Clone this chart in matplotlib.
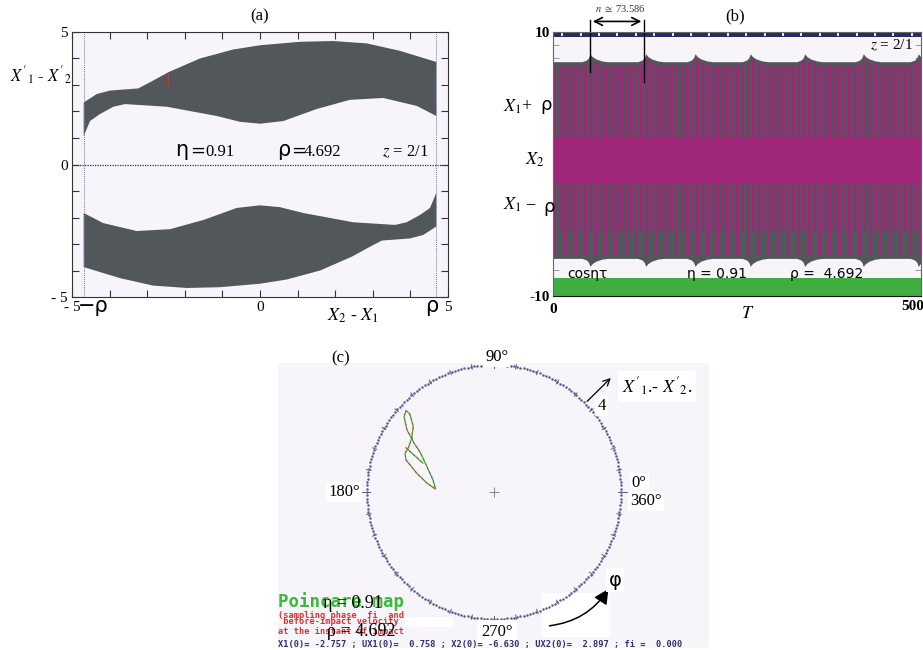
import numpy as np
import matplotlib
matplotlib.use('Agg')
import matplotlib.pyplot as plt
from matplotlib.patches import FancyArrowPatch, Rectangle

plt.rcParams['font.family'] = ['Liberation Serif', 'DejaVu Sans']
plt.rcParams['mathtext.fontset'] = 'stix'

W, H = 923, 650

ETA = 0.91
RHO = 4.692
N_PERIOD = 73.586

LAV = '#f7f5fa'
GREY = '#52575b'
MAG = '#a0267a'
GREEN = '#3fae3f'
NAVY = '#2b2b62'
DOTS = '#5a5a90'

# (a) phase plane: edges of the upper and lower bands
up_out_x = [-4.69, -4.34, -3.99, -3.24, -2.93, -2.44, -1.60, -0.71, 0.0, 1.06, 1.94, 2.84, 3.72, 4.69]
up_out_y = [2.34, 2.66, 2.79, 2.87, 3.10, 3.48, 4.00, 4.34, 4.50, 4.63, 4.66, 4.57, 4.29, 3.87]
up_in_x = [-4.69, -4.52, -4.26, -3.90, -3.59, -2.48, -1.15, -0.53, 0.0, 0.62, 1.50, 2.39, 3.28, 4.17, 4.69]
up_in_y = [1.07, 1.64, 1.90, 2.18, 2.28, 2.18, 1.83, 1.61, 1.54, 1.64, 2.09, 2.44, 2.51, 2.21, 1.83]
lo_out_x = [-4.69, -3.72, -2.84, -1.94, -1.06, 0.0, 0.71, 1.60, 2.44, 2.93, 3.24, 3.99, 4.34, 4.69]
lo_out_y = [-3.87, -4.29, -4.57, -4.66, -4.63, -4.50, -4.34, -4.00, -3.48, -3.10, -2.87, -2.79, -2.66, -2.34]
lo_in_x = [-4.69, -4.17, -3.28, -2.39, -1.50, -0.62, 0.0, 0.53, 1.15, 2.48, 3.59, 3.90, 4.26, 4.52, 4.69]
lo_in_y = [-1.83, -2.21, -2.51, -2.44, -2.09, -1.64, -1.54, -1.61, -1.83, -2.18, -2.28, -2.18, -1.90, -1.64, -1.07]

# (b) time history: envelope bumps and levels
bump_t = [50.3, 126.0, 193.0, 268.0, 342.0, 421.6, 496.3]
bump_dt = [-11, -5, -2, 0, 3, 8, 16, 24]
bump_shape = [0.0, 0.2, 0.5, 1.0, 0.65, 0.35, 0.1, 0.0]
top_base, top_peak = 7.75, 8.35
bot_base, bot_peak = -7.15, -7.75
core_lo, core_hi = -1.46, 2.07
stripe_low = [-6.9, -5.0]

# (c) Poincare map trace
map_x = [-2.59, -2.74, -2.83, -2.77, -2.65, -2.54, -2.57, -2.59, -2.70, -2.80, -2.77,
         -2.43, -2.11, -1.84, -1.92, -2.12, -2.33, -2.52, -2.59]
map_y = [1.69, 1.95, 2.37, 2.56, 2.46, 2.06, 1.86, 1.69, 1.38, 1.22, 1.01,
         0.59, 0.28, 0.09, 0.38, 0.82, 1.26, 1.54, 1.69]
chord_x = [-2.77, -2.24]
chord_y = [1.39, 0.91]
circle_r = 4
info_line = 'X1(0)= -2.757 ; UX1(0)=  0.758 ; X2(0)= -6.630 ; UX2(0)=  2.897 ; fi =  0.000'


def rect(l, t, r, b):
    return [l / W, 1 - b / H, (r - l) / W, (b - t) / H]


def fxy(px, py):
    return px / W, 1 - py / H


fig = plt.figure(figsize=(W / 100, H / 100), dpi=100)

# ---------- (a) ----------
ax = fig.add_axes(rect(72, 32, 448, 297))
ax.set_facecolor(LAV)
ax.fill(up_out_x + up_in_x[::-1], up_out_y + up_in_y[::-1], color=GREY, lw=0)
ax.fill(lo_out_x + lo_in_x[::-1], lo_out_y + lo_in_y[::-1], color=GREY, lw=0)
ax.axhline(0, color=NAVY, ls=(0, (1, 1)), lw=0.9)
for xv in (-RHO, RHO):
    ax.axvline(xv, color='#7a7aa8', ls=(0, (1, 1)), lw=0.7)
ax.plot([-2.44, -2.44], [3.0, 3.45], color='#c03838', lw=0.8)
ax.set_xlim(-5, 5)
ax.set_ylim(-5, 5)
ax.set_xticks([-5, 0, 5])
ax.set_xticklabels(['- 5', '0', '5'])
ax.set_yticks([-5, 0, 5])
ax.set_yticklabels(['- 5', '0', '5'])
ax.set_xticks(np.arange(-4, 5), minor=True)
ax.set_yticks(np.arange(-4, 5), minor=True)
ax.tick_params(which='both', direction='in', top=True, right=True, length=5,
               width=0.8, color='#303060', labelsize=11, pad=3)
for s in ax.spines.values():
    s.set_color('#333333')
sans = dict(family='DejaVu Sans')
ax.text(-2.26, 0.32, 'η', fontsize=15, **sans)
ax.text(-1.86, 0.32, '=', fontsize=13, **sans)
ax.text(-1.46, 0.32, '0.91', fontsize=12)
ax.text(0.45, 0.32, 'ρ', fontsize=15, **sans)
ax.text(0.82, 0.32, '=', fontsize=13, **sans)
ax.text(1.16, 0.32, '4.692', fontsize=12)
ax.text(3.24, 0.32, r'$z$ = 2/1', fontsize=12)
fig.text(*fxy(260, 16), '(a)', ha='center', va='center', fontsize=12)
fig.text(*fxy(10, 76), r"$X'_1$ - $X'_2$", ha='left', va='center', fontsize=12)
fig.text(*fxy(353, 316), r'$X_2$ - $X_1$', ha='center', va='center', fontsize=13)
fig.text(*fxy(93, 306), '\u2212ρ', ha='center', va='center', fontsize=15, **sans)
fig.text(*fxy(432, 306), 'ρ', ha='center', va='center', fontsize=15, **sans)

# ---------- (b) ----------
bx = fig.add_axes(rect(553, 32, 921, 296))
bx.set_facecolor(LAV)
bx.set_axisbelow(True)

env_t = [0.0]
env_top = [top_base]
env_bot = [bot_base]
for c in bump_t:
    for dt, k in zip(bump_dt, bump_shape):
        env_t.append(c + dt)
        env_top.append(top_base + (top_peak - top_base) * k)
        env_bot.append(bot_base + (bot_peak - bot_base) * k)
env_t.append(530.0)
env_top.append(top_base)
env_bot.append(bot_base)
bx.fill_between(env_t, env_bot, env_top, color=GREY, lw=0)

# one magenta stripe per forcing period 2*pi/eta
stripe_t = np.arange(2.0, 500, 2 * np.pi / ETA)
stripe_top = np.interp(stripe_t, env_t, env_top) - 0.25
stripe_bot = np.array([stripe_low[i % 2] for i in range(len(stripe_t))])
bx.vlines(stripe_t, stripe_bot, stripe_top, color=MAG, lw=2.0)
bx.axhspan(core_lo, core_hi, color=MAG, lw=0)

bx.axhspan(9.6, 10.0, color=NAVY, lw=0)
bx.vlines(np.arange(12.5, 500, 25), 9.68, 9.92, color='white', lw=1.3)
bx.axhspan(-10, -8.6, color=GREEN, lw=0)

bx.set_xlim(0, 500)
bx.set_ylim(-10, 10)
bx.set_xticks([0])
bx.set_xticklabels(['0'])
bx.set_yticks([-10, 10])
bx.set_yticklabels(['-10', '10'])
bx.set_yticks(np.arange(-9, 10), minor=True)
bx.tick_params(axis='x', length=0, labelsize=11, pad=5)
bx.tick_params(axis='y', which='both', direction='in', right=True, length=4,
               color='#8a8a9a', labelsize=11, pad=2)
for lab in bx.get_xticklabels() + bx.get_yticklabels():
    lab.set_fontweight('bold')
for name, s in bx.spines.items():
    s.set_color('#111111' if name == 'bottom' else '#666666')

bx.text(431, 9.0, r'$z$ = 2/1', fontsize=11, va='center')
bx.text(19, -8.3, 'cosητ', fontsize=10, va='center', **sans)
bx.text(182, -8.3, 'η = 0.91', fontsize=10, va='center', **sans)
bx.text(322, -8.3, 'ρ =  4.692', fontsize=10, va='center', **sans)

t_a, t_b = bump_t[0], bump_t[0] + N_PERIOD
bx.plot([t_a, t_a], [10.9, 7.0], color='black', lw=1.0, clip_on=False)
bx.plot([t_b, t_b], [10.9, 6.2], color='black', lw=1.0, clip_on=False)
bx.add_patch(FancyArrowPatch((t_a, 10.8), (t_b, 10.8), arrowstyle='<->', mutation_scale=14,
                             lw=1.2, color='black', clip_on=False))
fig.text(*fxy(620, 9), r'$n\ \cong$ 73.586', ha='center', va='center',
         fontsize=7.5, color='#333333')
fig.text(*fxy(735, 16), '(b)', ha='center', va='center', fontsize=12)
fig.text(*fxy(913, 306), '500', ha='center', va='center', fontsize=11, fontweight='bold')
fig.text(*fxy(748, 314), r'$T$', ha='center', va='center', fontsize=13)
fig.text(*fxy(503, 107), r'$X_1$+', ha='left', va='center', fontsize=13)
fig.text(*fxy(546, 105), 'ρ', ha='center', va='center', fontsize=13, **sans)
fig.text(*fxy(535, 160), r'$X_2$', ha='center', va='center', fontsize=13)
fig.text(*fxy(503, 205), r'$X_1$', ha='left', va='center', fontsize=13)
fig.text(*fxy(530, 205), '\u2212', ha='center', va='center', fontsize=13)
fig.text(*fxy(549, 207), 'ρ', ha='center', va='center', fontsize=13, **sans)

# ---------- (c) ----------
cx = fig.add_axes(rect(278, 363, 709, 648))
cx.set_facecolor(LAV)
cx.set_xlim(-6.80, 6.77)
cx.set_ylim(-4.91, 4.06)
cx.set_xticks([])
cx.set_yticks([])
for s in cx.spines.values():
    s.set_visible(False)

th = np.linspace(0, 2 * np.pi, 240, endpoint=False)
cx.plot(circle_r * np.cos(th), circle_r * np.sin(th), ls='none', marker='.', ms=1.6, color=DOTS)
for deg in range(0, 360, 10):
    a = np.deg2rad(deg)
    r0, r1 = (3.9, 4.22) if deg % 90 == 0 else (3.93, 4.07)
    cx.plot([r0 * np.cos(a), r1 * np.cos(a)], [r0 * np.sin(a), r1 * np.sin(a)], color=DOTS, lw=0.7)
cx.plot([0], [0], marker='+', ms=7, mew=0.6, color='#7070a0')

cx.plot(map_x, map_y, color='#3aa83a', lw=0.9)
cx.plot(map_x, map_y, color='#d83a3a', lw=0.7, ls=(0, (2, 3)))
cx.plot(chord_x, chord_y, color='#3aa83a', lw=0.9)
cx.plot(chord_x, chord_y, color='#d83a3a', lw=0.7, ls=(0, (2, 3)))

white = dict(facecolor='white', edgecolor='none', pad=1.5)
cx.text(0.09, 4.26, '90°', ha='center', va='center', fontsize=12, bbox=white, clip_on=False)
cx.text(4.57, 0.27, '0°', ha='center', va='center', fontsize=12, bbox=white)
cx.text(4.79, -0.28, '360°', ha='center', va='center', fontsize=12, bbox=white)
cx.text(-4.72, 0.0, '180°', ha='center', va='center', fontsize=12, bbox=white)
cx.text(0.09, -4.41, '270°', ha='center', va='center', fontsize=12,
        bbox=dict(facecolor='white', edgecolor='none', pad=3))

cx.add_patch(Rectangle((1.51, -4.57), 2.14, 1.39, facecolor='white', edgecolor='none'))
cx.add_patch(Rectangle((-2.80, -4.25), 1.51, 0.31, facecolor='white', edgecolor='none'))
cx.add_patch(FancyArrowPatch((2.87, 2.79), (3.74, 3.65), arrowstyle='->', mutation_scale=12,
                             lw=0.9, color='black'))
cx.text(3.39, 2.72, '4', ha='center', va='center', fontsize=12, bbox=white)
cx.text(4.02, 3.32, r"$X'_1$.- $X'_2$.", ha='left', va='center', fontsize=13,
        bbox=dict(facecolor='white', edgecolor='none', pad=3))
cx.add_patch(FancyArrowPatch((1.66, -4.22), (3.65, -2.98), connectionstyle='arc3,rad=0.25',
                             arrowstyle='-|>', mutation_scale=22, lw=1.1, color='black'))
cx.text(3.81, -2.77, 'φ', ha='center', va='center', fontsize=14, bbox=white, **sans)

fig.text(*fxy(341, 358), '(c)', ha='center', va='center', fontsize=12)
fig.text(*fxy(278, 602), 'Poincare map', ha='left', va='center', family='DejaVu Sans Mono',
         fontweight='bold', fontsize=12.5, color='#3cb83c')
red_lines = ['(sampling phase  fi  and', ' before-impact velocity', 'at the instant of impact']
for yy, line in zip((615, 622, 632), red_lines):
    fig.text(*fxy(278, yy), line, ha='left', va='center', family='DejaVu Sans Mono',
             fontweight='bold', fontsize=6.2, color='#e03030')
fig.text(*fxy(323, 604), 'η = 0.91', ha='left', va='center', fontsize=13)
fig.text(*fxy(327, 631), 'ρ = 4.692', ha='left', va='center', fontsize=13)
fig.text(*fxy(278, 645), info_line, ha='left', va='center', family='DejaVu Sans Mono',
         fontweight='bold', fontsize=6.2, color='#303070')

fig.savefig('out.png', dpi=100)
